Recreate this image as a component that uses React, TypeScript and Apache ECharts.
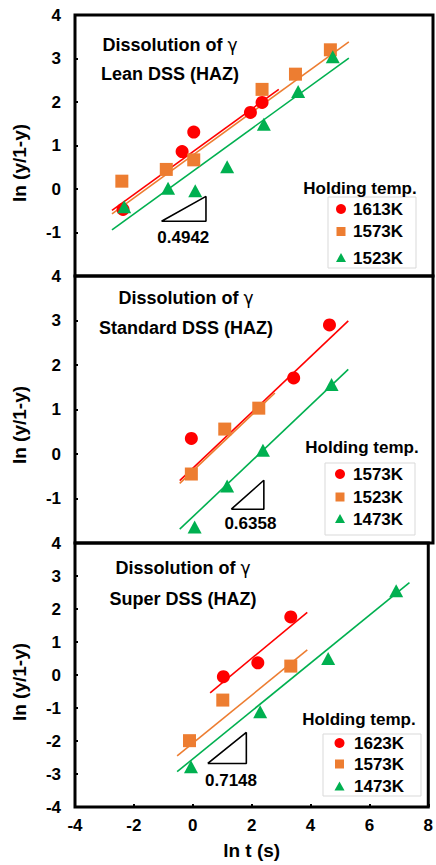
import React, { useEffect, useRef } from "react";
import * as echarts from "echarts";

// ---------- data (ln t, ln(y/1-y)) ----------
const panelTitles = ["Lean DSS (HAZ)", "Standard DSS (HAZ)", "Super DSS (HAZ)"];
const slopeLabels = ["0.4942", "0.6358", "0.7148"];

const leanTemps = ["1613K", "1573K", "1523K"];
const lean1613X = [-2.39, -0.41, -0.02, 1.88, 2.27];
const lean1613Y = [-0.47, 0.86, 1.31, 1.76, 1.99];
const lean1573X = [-2.43, -0.94, -0.02, 2.27, 3.39, 4.56];
const lean1573Y = [0.18, 0.45, 0.67, 2.29, 2.64, 3.2];
const lean1523X = [-2.35, -0.88, 0.03, 1.1, 2.33, 3.48, 4.64];
const lean1523Y = [-0.41, 0.02, -0.04, 0.51, 1.49, 2.24, 3.04];
const leanFitRed = [[-2.76, -0.49], [2.83, 2.29]];
const leanFitOrange = [[-2.76, -0.57], [5.18, 3.38]];
const leanFitGreen = [[-2.76, -0.94], [5.18, 3.01]];
const leanSlopeTri = [[-1.1, -0.74], [0.39, -0.74], [0.39, -0.17], [-1.1, -0.74]];
const leanSlopeLabelAt = [-0.37, -1.12];

const stdTemps = ["1573K", "1523K", "1473K"];
const std1573X = [-0.1, 3.33, 4.53];
const std1573Y = [0.35, 1.71, 2.9];
const std1523X = [-0.1, 1.02, 2.16];
const std1523Y = [-0.45, 0.56, 1.03];
const std1473X = [0.01, 1.1, 2.3, 4.6];
const std1473Y = [-1.64, -0.72, 0.085, 1.56];
const stdFitRed = [[-0.49, -0.6], [5.16, 2.99]];
const stdFitOrange = [[-0.49, -0.66], [2.7, 1.37]];
const stdFitGreen = [[-0.49, -1.69], [5.16, 1.9]];
const stdSlopeTri = [[1.24, -1.24], [2.33, -1.24], [2.33, -0.59], [1.24, -1.24]];
const stdSlopeLabelAt = [1.88, -1.57];

const supTemps = ["1623K", "1573K", "1473K"];
const sup1623X = [1.04, 2.21, 3.33];
const sup1623Y = [-0.05, 0.37, 1.76];
const sup1573X = [-0.11, 1.02, 3.33];
const sup1573Y = [-1.99, -0.76, 0.27];
const sup1473X = [-0.06, 2.29, 4.6, 6.91];
const sup1473Y = [-2.78, -1.11, 0.5, 2.55];
const supFitRed = [[0.59, -0.54], [3.89, 1.9]];
const supFitOrange = [[-0.53, -2.45], [3.89, 0.76]];
const supFitGreen = [[-0.53, -2.93], [7.36, 2.8]];
const supSlopeTri = [[0.51, -2.68], [1.82, -2.68], [1.82, -1.74], [0.51, -2.68]];
const supSlopeLabelAt = [1.3, -3.2];

const xTicks = { min: -4, max: 8, step: 2 };
const yMins = [-2, -2, -4];
const yMax = 4;

// ---------- styling ----------
const RED = "#ff0000";
const ORANGE = "#ed7d31";
const GREEN = "#00b050";
const FONT = "Liberation Sans, Arial, sans-serif";
const colors = [RED, ORANGE, GREEN];
const symbols = ["circle", "rect", "triangle"];

const zip = (xs: number[], ys: number[]) => xs.map((x, i) => [x, ys[i]]);

const panels = [
  {
    temps: leanTemps,
    pts: [zip(lean1613X, lean1613Y), zip(lean1573X, lean1573Y), zip(lean1523X, lean1523Y)],
    fits: [leanFitRed, leanFitOrange, leanFitGreen],
    tri: leanSlopeTri,
    labelAt: leanSlopeLabelAt,
  },
  {
    temps: stdTemps,
    pts: [zip(std1573X, std1573Y), zip(std1523X, std1523Y), zip(std1473X, std1473Y)],
    fits: [stdFitRed, stdFitOrange, stdFitGreen],
    tri: stdSlopeTri,
    labelAt: stdSlopeLabelAt,
  },
  {
    temps: supTemps,
    pts: [zip(sup1623X, sup1623Y), zip(sup1573X, sup1573Y), zip(sup1473X, sup1473Y)],
    fits: [supFitRed, supFitOrange, supFitGreen],
    tri: supSlopeTri,
    labelAt: supSlopeLabelAt,
  },
];

const grids = [
  { left: 75, top: 15, width: 358, height: 261 },
  { left: 75, top: 276, width: 358, height: 267 },
  { left: 75, top: 543, width: 358, height: 264 },
];

// layout of annotation texts (pixels)
const titleLayout = [
  { x: 170, y1: 45, y2: 74 },
  { x: 186, y1: 298, y2: 328 },
  { x: 183, y1: 568, y2: 599 },
];
const yNameY = [163, 425, 682];
const legendLayout = [
  { hx: 360, hy: 188, mx: 341, tx: 353, ys: [209, 231.5, 258], box: [328, 197, 88, 71] },
  { hx: 362, hy: 447, mx: 340, tx: 353, ys: [474, 497, 519], box: [325, 463, 90, 72] },
  { hx: 359, hy: 719, mx: 339.5, tx: 354, ys: [743, 764, 786.5], box: [323, 734, 98, 62] },
];

function buildOption() {
  const series: any[] = [];
  panels.forEach((p, gi) => {
    p.fits.forEach((f, si) => {
      series.push({
        type: "line",
        xAxisIndex: gi,
        yAxisIndex: gi,
        data: f,
        symbol: "none",
        lineStyle: { color: colors[si], width: 1.6 },
        z: 2,
        silent: true,
      });
    });
    p.pts.forEach((d, si) => {
      series.push({
        type: "scatter",
        name: p.temps[si] + "-" + gi,
        xAxisIndex: gi,
        yAxisIndex: gi,
        data: d,
        symbol: symbols[si],
        symbolSize: si === 2 ? [14, 13] : 13,
        itemStyle: { color: colors[si], opacity: 1 },
        z: 3,
      });
    });
    series.push({
      type: "line",
      xAxisIndex: gi,
      yAxisIndex: gi,
      data: p.tri,
      symbol: "none",
      lineStyle: { color: "#000", width: 1.6 },
      z: 2,
      markPoint: {
        symbol: "circle",
        symbolSize: 0,
        silent: true,
        itemStyle: { color: "transparent" },
        data: [{ coord: p.labelAt }],
        label: {
          show: true,
          position: "inside",
          formatter: slopeLabels[gi],
          color: "#000",
          textBorderWidth: 0,
          fontFamily: FONT,
          fontWeight: "bold",
          fontSize: 17,
        },
      },
    });
  });

  const graphic: any[] = [];
  titleLayout.forEach((t, i) => {
    graphic.push({
      type: "text",
      x: t.x,
      y: t.y1,
      z: 10,
      style: {
        text: "Dissolution of {g|γ}",
        fontFamily: FONT,
        fontWeight: "bold",
        fontSize: 18,
        fill: "#000",
        align: "center",
        verticalAlign: "middle",
        rich: { g: { fontFamily: "DejaVu Sans", fontWeight: "normal", fontSize: 17, fill: "#000" } },
      },
    });
    graphic.push({
      type: "text",
      x: t.x,
      y: t.y2,
      z: 10,
      style: {
        text: panelTitles[i],
        fontFamily: FONT,
        fontWeight: "bold",
        fontSize: 18,
        fill: "#000",
        align: "center",
        verticalAlign: "middle",
      },
    });
  });
  yNameY.forEach((y) => {
    graphic.push({
      type: "text",
      x: 19,
      y,
      rotation: Math.PI / 2,
      style: {
        text: "ln (y/1-y)",
        fontFamily: FONT,
        fontWeight: "bold",
        fontSize: 19,
        fill: "#000",
        align: "center",
        verticalAlign: "middle",
      },
    });
  });
  legendLayout.forEach((L, gi) => {
    graphic.push({
      type: "rect",
      shape: { x: L.box[0], y: L.box[1], width: L.box[2], height: L.box[3] },
      style: { fill: "#fff", stroke: "#d9d9d9", lineWidth: 1 },
      z: 5,
    });
    graphic.push({
      type: "text",
      x: L.hx,
      y: L.hy,
      z: 6,
      style: {
        text: "Holding temp.",
        fontFamily: FONT,
        fontWeight: "bold",
        fontSize: 17,
        fill: "#000",
        align: "center",
        verticalAlign: "middle",
      },
    });
    panels[gi].temps.forEach((temp, si) => {
      const cy = L.ys[si];
      if (si === 0) {
        graphic.push({ type: "circle", z: 6, shape: { cx: L.mx, cy, r: 5 }, style: { fill: RED } });
      } else if (si === 1) {
        graphic.push({ type: "rect", z: 6, shape: { x: L.mx - 4.5, y: cy - 4.5, width: 9, height: 9 }, style: { fill: ORANGE } });
      } else {
        graphic.push({
          type: "polygon",
          z: 6,
          shape: { points: [[L.mx, cy - 5], [L.mx + 5, cy + 4], [L.mx - 5, cy + 4]] },
          style: { fill: GREEN },
        });
      }
      graphic.push({
        type: "text",
        x: L.tx,
        y: cy,
        z: 6,
        style: {
          text: temp,
          fontFamily: FONT,
          fontWeight: "bold",
          fontSize: 17,
          fill: "#000",
          align: "left",
          verticalAlign: "middle",
        },
      });
    });
  });

  return {
    animation: false,
    backgroundColor: "#fff",
    grid: grids.map((g) => ({ ...g, show: true, borderColor: "#000", borderWidth: 3, backgroundColor: "transparent" })),
    xAxis: grids.map((_, i) => ({
      type: "value",
      gridIndex: i,
      min: xTicks.min,
      max: xTicks.max,
      interval: xTicks.step,
      axisLine: { show: false, onZero: false },
      axisTick: { show: i === 2, inside: true, length: 3, lineStyle: { color: "#000", width: 2 } },
      axisLabel: {
        show: i === 2,
        margin: 10,
        color: "#000",
        fontFamily: FONT,
        fontWeight: "bold",
        fontSize: 17,
      },
      splitLine: { show: false },
      name: i === 2 ? "ln t (s)" : "",
      nameLocation: "middle",
      nameGap: 34,
      nameTextStyle: { color: "#000", fontFamily: FONT, fontWeight: "bold", fontSize: 19 },
    })),
    yAxis: grids.map((_, i) => ({
      type: "value",
      gridIndex: i,
      min: yMins[i],
      max: yMax,
      interval: 1,
      axisLine: { show: false, onZero: false },
      axisTick: { show: true, inside: true, length: 3, lineStyle: { color: "#000", width: 2 } },
      axisLabel: {
        margin: 14,
        color: "#000",
        fontFamily: FONT,
        fontWeight: "bold",
        fontSize: 17,
        formatter: (v: number) => (i < 2 && v === yMins[i] ? "" : String(v)),
      },
      splitLine: { show: false },
    })),
    series,
    graphic,
  };
}

export default function App() {
  const ref = useRef<HTMLDivElement>(null);
  useEffect(() => {
    if (!ref.current) return;
    const chart = echarts.init(ref.current, null, { renderer: "svg" });
    chart.setOption(buildOption() as any);
    return () => chart.dispose();
  }, []);
  return (
    <div
      ref={ref}
      style={{ width: 436, height: 865, position: "absolute", left: 0, top: 0 }}
    />
  );
}
